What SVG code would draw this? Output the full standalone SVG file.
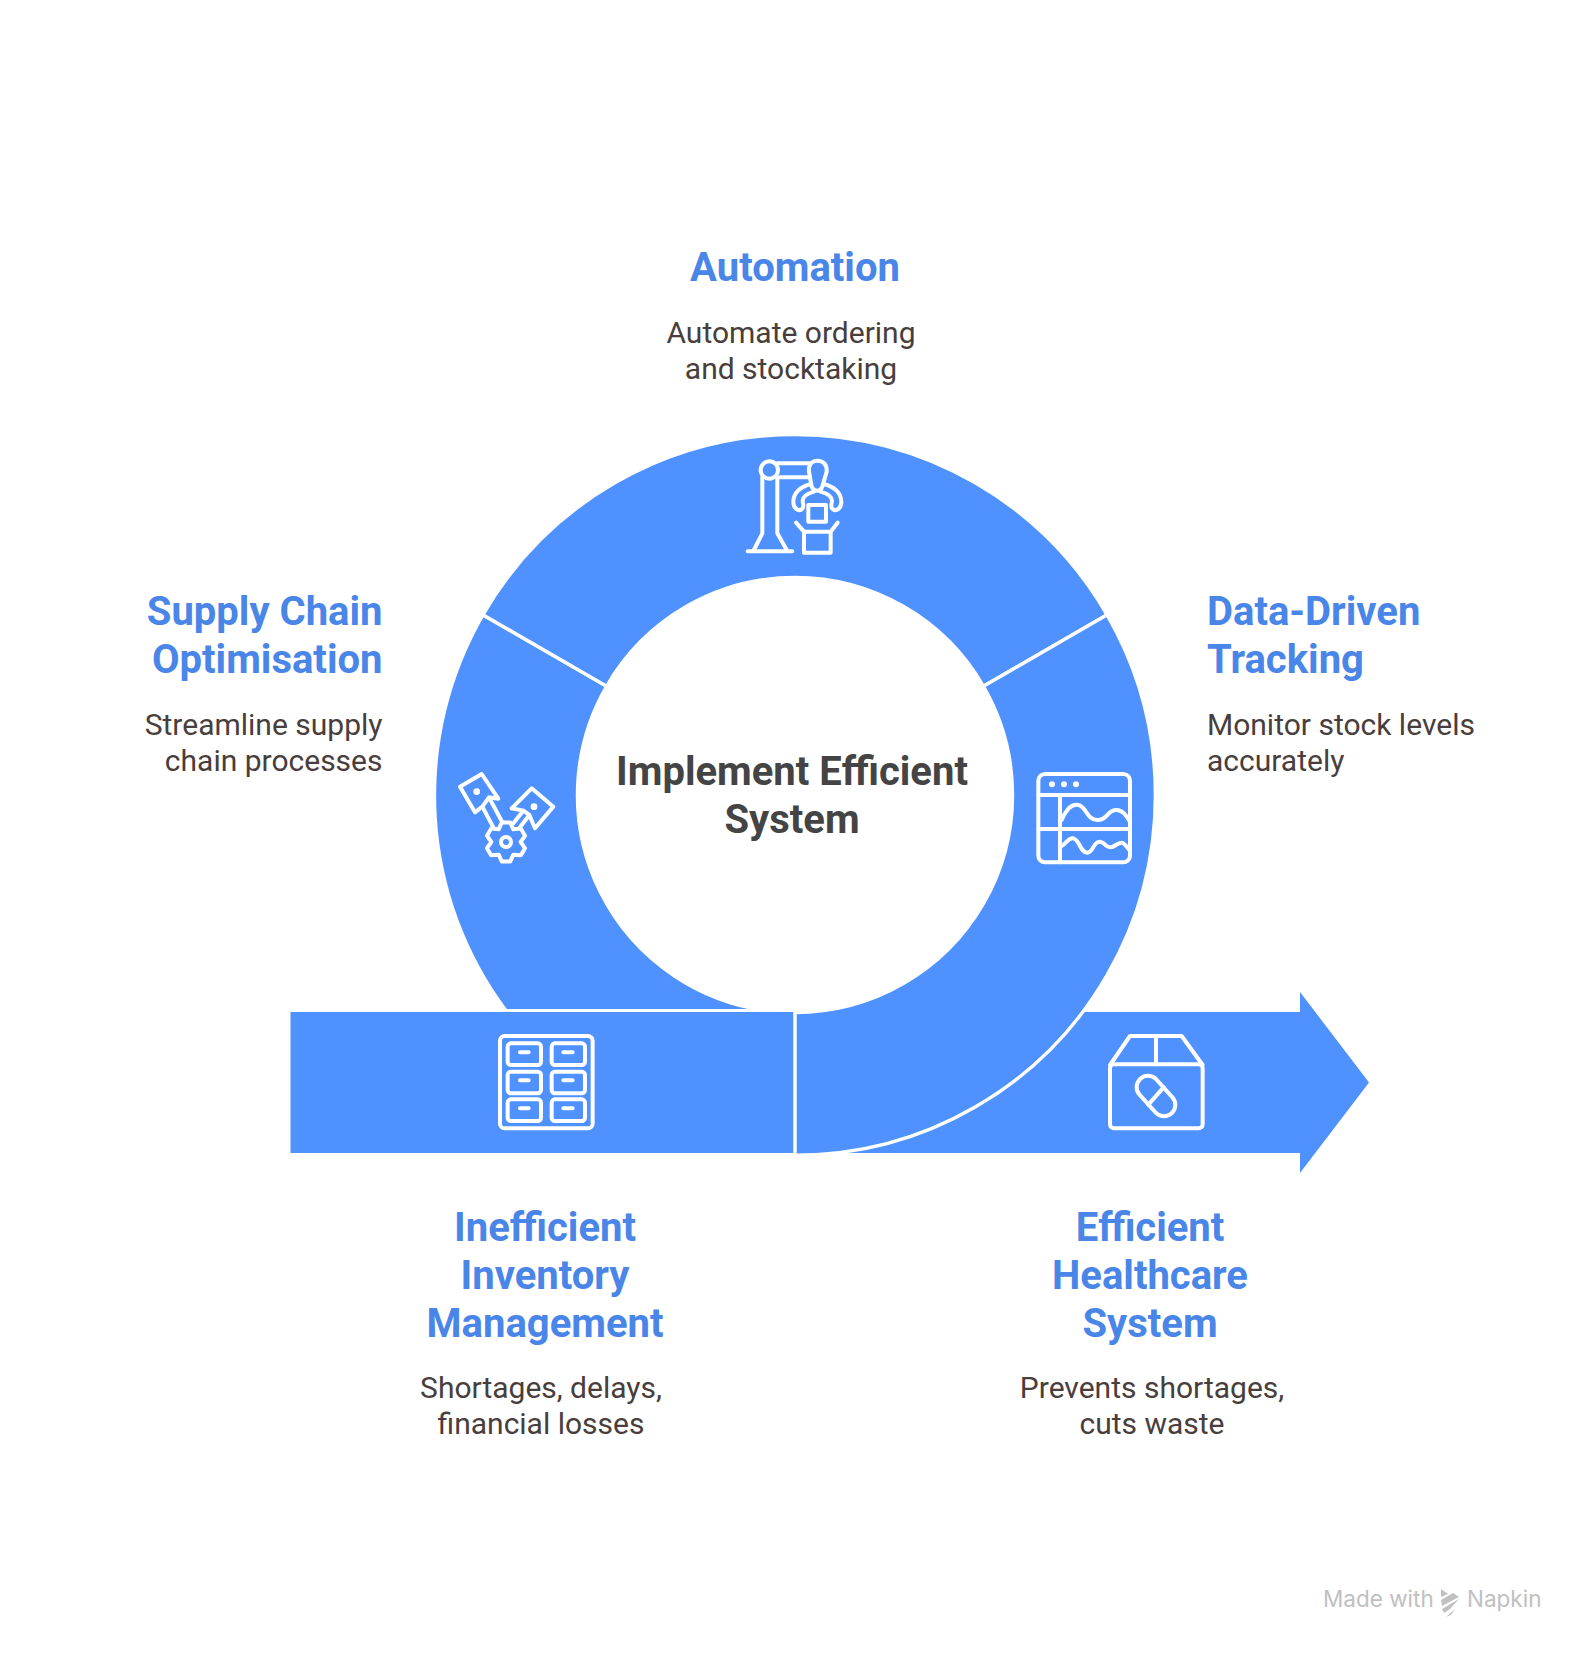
<svg xmlns="http://www.w3.org/2000/svg" width="1589" height="1656" viewBox="0 0 1589 1656">
<style>
.t{font-family:Roboto,"Liberation Sans",sans-serif;font-weight:700;font-size:40px;fill:#4a85e8}
.d{font-family:Roboto,"Liberation Sans",sans-serif;font-weight:400;font-size:30px;fill:#483e3c}
.c{font-family:Roboto,"Liberation Sans",sans-serif;font-weight:700;font-size:40px;fill:#444}
.m{text-anchor:middle}.e{text-anchor:end}
.seg{fill:#4f92ff;stroke:#fff;stroke-width:3.400}
.i{fill:none;stroke:#fff;stroke-width:12;stroke-linecap:round;stroke-linejoin:round}
.w{fill:#fff;stroke:none}
.n{font-family:Inter,Roboto,sans-serif;font-size:22.500px;fill:#c0c0c0}
</style>
<rect width="1589" height="1656" fill="#fff"/>
<g id="connectors">
<path id="arrow" fill="#4f92ff" d="M795 1012H1300V992L1369 1082.500L1300 1173V1153H795Z"/>
</g>
<g id="node-supply">
<path class="seg" d="M482.900 614.800L606.600 686.250A217.500 217.500 0 0 0 768 1010.800H506A360.300 360.300 0 0 1 482.900 614.800Z"/>
<g class="i" transform="translate(420 740) scale(.3333)">
<path d="M120 140L185 102L235 176L207 172L245 243M120 140L165 217L187 200L220 262M187 200L207 172"/>
<path d="M275 205L335 145L400 200L345 265L328 225L300 262M275 205L310 212L280 250M310 212L328 225"/>
<path d="M245.500 247.300L270.500 247.300L280 268L302.600 265.900L315 287.500L302 306L315 324.500L302.600 346.100L280 344L270.500 364.700L245.500 364.700L236 344L213.400 346.100L201 324.500L214 306L201 287.500L213.400 265.900L236 268Z"/>
<circle cx="258" cy="306" r="15"/>
</g>
<g transform="translate(420 740) scale(.3333)"><circle class="w" cx="170" cy="155" r="10"/><circle class="w" cx="342" cy="200" r="10"/></g>
<text class="t e" x="382.500" y="625">Supply Chain</text>
<text class="t e" x="382.500" y="673">Optimisation</text>
<text class="d e" x="382.500" y="735">Streamline supply</text>
<text class="d e" x="382.500" y="771">chain processes</text>
</g>
<g id="node-inefficient">
<rect x="290.500" y="1012" width="504.500" height="141" fill="#4f92ff"/>
<g class="i" transform="translate(480 1010) scale(.3333)">
<rect x="60" y="78" width="278" height="277" rx="14"/>
<rect x="83" y="100" width="100" height="65" rx="10"/><rect x="215" y="100" width="100" height="65" rx="10"/>
<rect x="83" y="185" width="100" height="65" rx="10"/><rect x="215" y="185" width="100" height="65" rx="10"/>
<rect x="83" y="268" width="100" height="65" rx="10"/><rect x="215" y="268" width="100" height="65" rx="10"/>
<path d="M120 127H146M250 127H278M120 211H146M250 211H278M120 295H146M250 295H278"/>
</g>
<text class="t m" x="545" y="1241">Inefficient</text>
<text class="t m" x="545" y="1289">Inventory</text>
<text class="t m" x="545" y="1337">Management</text>
<text class="d m" x="541" y="1398">Shortages, delays,</text>
<text class="d m" x="541" y="1434">financial losses</text>
</g>
<g id="node-automation">
<path class="seg" d="M482.900 614.800A360.300 360.300 0 0 1 1107.100 614.800L983.400 686.250A217.500 217.500 0 0 0 606.600 686.250Z"/>
<g class="i" transform="translate(700 420) scale(.3333)">
<circle cx="208" cy="150" r="26"/>
<path d="M187 172V340L160 393M232 175V340L262 393M143 394H277M232 130H330M240 172H325"/>
<path d="M352 122C335 122 325 135 327 155L335 200Q340 212 352 212Q362 212 367 200L380 155C382 135 370 122 352 122Z"/>
<path d="M333 192C300 200 280 220 280 245C280 265 295 275 305 268C315 262 308 250 308 242C308 230 325 220 342 215"/>
<path d="M371 192C404 200 424 220 424 245C424 265 409 275 399 268C389 262 396 250 396 242C396 230 379 220 362 215"/>
<rect x="325" y="255" width="53" height="50"/>
<path d="M312 335H392V398H312ZM312 335L288 308M392 335L413 308"/>
</g>
<text class="t m" x="795" y="281">Automation</text>
<text class="d m" x="791" y="343">Automate ordering</text>
<text class="d m" x="791" y="379">and stocktaking</text>
</g>
<g id="node-tracking">
<path class="seg" d="M1107.100 614.800A360.300 360.300 0 0 1 795 1155.300V1012.500A217.500 217.500 0 0 0 983.400 686.250Z"/>
<g class="i" transform="translate(1010 740) scale(.3333)">
<rect x="85" y="102" width="275" height="265" rx="20"/>
<path d="M85 165H360M85 267H360M150 165V367"/>
<path d="M155 240C170 205 185 190 205 195C230 200 230 240 262 240C295 240 290 210 320 210C340 210 350 230 360 245"/>
<path d="M155 318C170 310 175 292 190 295C210 300 210 338 232 338C250 338 250 305 268 305C285 305 285 322 300 322C315 322 320 308 335 308C345 308 352 325 360 332"/>
</g>
<g transform="translate(1010 740) scale(.3333)"><circle class="w" cx="126" cy="133" r="9"/><circle class="w" cx="162" cy="133" r="9"/><circle class="w" cx="198" cy="133" r="9"/></g>
<text class="t" x="1207" y="625">Data-Driven</text>
<text class="t" x="1207" y="673">Tracking</text>
<text class="d" x="1207" y="735">Monitor stock levels</text>
<text class="d" x="1207" y="771">accurately</text>
</g>
<g id="node-efficient">
<g class="i" transform="translate(1090 1010) scale(.3333)">
<path d="M60 165L120 78H275L338 165M198 78V163"/>
<rect x="60" y="163" width="278" height="192" rx="12"/>
<rect x="-70" y="-34" width="140" height="68" rx="34" transform="translate(198 258) rotate(48)"/>
<path d="M175 284L221 232"/>
</g>
<text class="t m" x="1150" y="1241">Efficient</text>
<text class="t m" x="1150" y="1289">Healthcare</text>
<text class="t m" x="1150" y="1337">System</text>
<text class="d m" x="1152" y="1398">Prevents shortages,</text>
<text class="d m" x="1152" y="1434">cuts waste</text>
</g>
<g id="node-center">
<text class="c m" x="792" y="785">Implement Efficient</text>
<text class="c m" x="792" y="833">System</text>
</g>
<g id="watermark">
<text class="n" x="1323" y="1607">Made with</text>
<path fill="#c0c0c0" d="M1441 1589L1448 1594L1441 1597ZM1441 1600L1453 1593L1459 1597L1442 1606ZM1442 1609L1459 1599L1450 1609L1444 1613ZM1446 1617L1455 1609L1451 1615Z"/>
<text class="n" x="1467" y="1607">Napkin</text>
</g>
</svg>
